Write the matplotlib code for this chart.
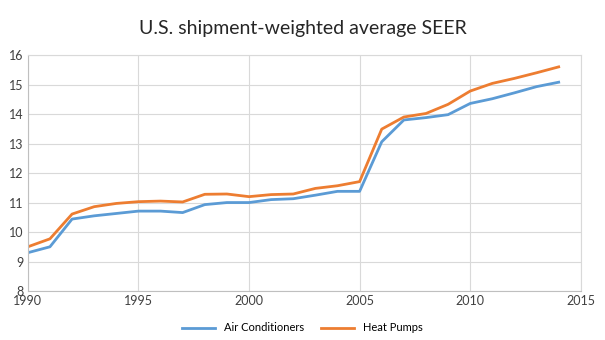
import matplotlib
matplotlib.use("Agg")
import matplotlib.pyplot as plt

years = list(range(1990, 2015))
air_conditioners = [9.30, 9.50, 10.44, 10.55, 10.63, 10.71, 10.71, 10.66, 10.93, 11.00,
                    11.00, 11.10, 11.13, 11.25, 11.38, 11.38, 13.06, 13.80, 13.88, 13.98,
                    14.36, 14.52, 14.72, 14.93, 15.08]
heat_pumps = [9.50, 9.77, 10.61, 10.86, 10.97, 11.03, 11.05, 11.02, 11.28, 11.29,
              11.20, 11.27, 11.29, 11.48, 11.57, 11.71, 13.49, 13.90, 14.02, 14.33,
              14.78, 15.04, 15.21, 15.40, 15.60]

plt.rcParams['font.family'] = ['Lato', 'DejaVu Sans']

fig = plt.figure(figsize=(6.05, 3.4), dpi=100)
ax = fig.add_axes([0.046, 0.144, 0.914, 0.694])

ax.plot(years, air_conditioners, color='#5B9BD5', lw=2, label='Air Conditioners')
ax.plot(years, heat_pumps, color='#ED7D31', lw=2, label='Heat Pumps')

ax.set_xlim(1990, 2015)
ax.set_ylim(8, 16)
ax.set_xticks(range(1990, 2016, 5))
ax.set_yticks(range(8, 17))
ax.grid(True, color='#d9d9d9', lw=0.8)
ax.set_axisbelow(True)
for s in ax.spines.values():
    s.set_color('#d9d9d9')
ax.spines['left'].set_color('#bfbfbf')
ax.spines['bottom'].set_color('#bfbfbf')
ax.tick_params(length=0, labelsize=9, colors='#404040', pad=3)

fig.suptitle('U.S. shipment-weighted average SEER', y=0.94, fontsize=14, color='#262626')
fig.legend(loc='lower center', ncol=2, frameon=False, fontsize=8,
           bbox_to_anchor=(0.5, -0.01), handlelength=3, columnspacing=1.5)

fig.savefig('out.png', dpi=100)
